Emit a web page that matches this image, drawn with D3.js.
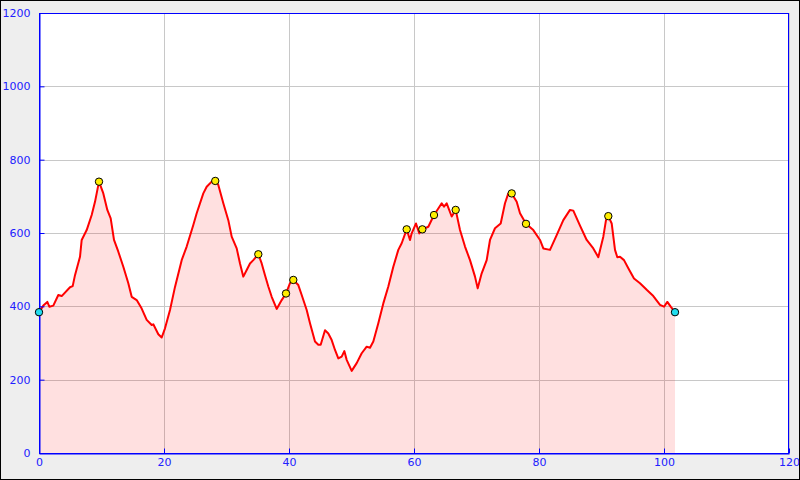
<!DOCTYPE html>
<html><head><meta charset="utf-8">
<script src="https://cdn.jsdelivr.net/npm/d3@7"></script>
<style>body{margin:0;padding:0;}svg{display:block;}</style>
</head><body>
<svg id="c" width="800" height="480"></svg>
<script>
const distKm = [0,0.69,1.33,1.65,2.29,3.09,3.63,4.96,5.39,5.76,6.56,6.83,7.63,8.43,8.96,9.6,10.29,10.93,11.47,12.0,12.69,13.49,14.29,14.83,15.63,16.43,17.23,18.03,18.29,19.09,19.63,20.16,20.96,21.76,22.83,23.63,24.69,25.23,26.29,26.83,27.63,28.2,28.69,29.49,30.29,30.83,31.63,32.16,32.69,33.23,33.76,34.29,35.09,35.63,36.16,36.69,37.23,38.03,38.83,39.52,40.16,40.69,41.49,42.03,42.83,43.36,44.16,44.69,45.07,45.76,46.29,46.83,47.36,47.89,48.43,48.85,49.23,50.03,50.83,51.63,52.43,52.96,53.49,54.29,55.09,55.89,56.69,57.49,58.03,58.83,59.36,59.63,60.32,60.85,61.33,62.29,63.2,63.89,64.43,64.8,65.23,66.03,66.67,67.36,68.16,68.96,69.76,70.19,70.83,71.63,72.16,72.96,73.87,74.56,75.09,75.63,76.43,76.96,77.92,79.09,80.16,80.69,81.76,82.83,83.89,84.96,85.49,86.56,87.63,88.69,89.49,90.29,90.72,91.09,91.63,92.16,92.53,92.96,93.6,94.29,95.2,96.16,97.23,98.29,99.36,100.0,100.53,101.07,101.76];
const elevation = [384,402,412,399,402,431,428,452,455,485,535,581,608,649,685,740,708,663,640,581,549,508,463,426,417,394,363,349,351,324,315,340,390,453,526,563,622,654,708,726,740,742,731,681,635,590,558,517,481,499,517,526,542,517,485,454,426,393,417,435,463,472,458,431,390,354,304,295,295,335,326,308,281,258,263,278,254,224,245,272,290,287,304,354,408,454,508,554,572,610,581,599,626,599,610,617,649,667,681,672,681,645,663,608,563,526,481,449,490,526,581,613,626,681,708,708,685,654,625,608,581,558,554,594,635,663,661,620,581,558,534,590,635,646,626,554,534,535,526,504,476,463,445,428,404,399,412,399,384];
const markerKm = [9.6,28.2,35.09,39.52,40.69,58.83,61.33,63.2,66.67,75.63,77.92,91.09];
const markerElev = [740,742,542,435,472,610,610,649,663,708,625,646];
const endKm = [0,101.76];
const endElev = [384,384];
const xTicks = [0,20,40,60,80,100,120];
const yTicks = [0,200,400,600,800,1000,1200];

const svg = d3.select("#c");
const L=39,T=13,R=789,B=453;
svg.append("rect").attr("x",0.5).attr("y",0.5).attr("width",799).attr("height",479)
  .attr("fill","#eeeeee").attr("stroke","#000").attr("stroke-width",1);
svg.append("rect").attr("x",L).attr("y",T).attr("width",R-L).attr("height",B-T).attr("fill","#fff");

const x = d3.scaleLinear().domain([0,120]).range([L,R]);
const y = d3.scaleLinear().domain([0,1200]).range([B,T]);

const g = svg.append("g");
g.selectAll(".vg").data(xTicks).enter().append("line")
  .attr("x1",d=>Math.round(x(d))+0.5).attr("x2",d=>Math.round(x(d))+0.5)
  .attr("y1",T).attr("y2",B).attr("stroke","#c8c8c8").attr("stroke-width",1);
g.selectAll(".hg").data(yTicks).enter().append("line")
  .attr("y1",d=>Math.round(y(d))+0.5).attr("y2",d=>Math.round(y(d))+0.5)
  .attr("x1",L).attr("x2",R).attr("stroke","#c8c8c8").attr("stroke-width",1);

const pts = distKm.map((d,i)=>[d,elevation[i]]);
const area = d3.area().x(d=>x(d[0])).y0(y(0)).y1(d=>y(d[1]));
const line = d3.line().x(d=>x(d[0])).y(d=>y(d[1]));
g.append("path").attr("d",area(pts)).attr("fill","rgba(255,0,0,0.12)");
g.append("path").attr("d",line(pts)).attr("fill","none").attr("stroke","#ff0000").attr("stroke-width",2).attr("stroke-linejoin","round");

svg.append("rect").attr("x",L+0.5).attr("y",T+0.5).attr("width",R-L-1).attr("height",B-T)
  .attr("fill","none").attr("stroke","#0000ff").attr("stroke-width",1);

const fmt = d3.format("d");
const yAxis = d3.axisLeft(y).tickValues(yTicks).tickFormat(fmt).tickSizeInner(-5).tickSizeOuter(0).tickPadding(9);
const xAxis = d3.axisBottom(x).tickValues(xTicks).tickFormat(fmt).tickSizeInner(-5).tickSizeOuter(0).tickPadding(5);
const ya = svg.append("g").attr("transform",`translate(${L+0.5},0)`).call(yAxis);
const xa = svg.append("g").attr("transform",`translate(0,${B+0.5})`).call(xAxis);
[ya,xa].forEach(a=>{
  a.select(".domain").attr("stroke","#0000ff");
  a.selectAll(".tick line").attr("stroke","#0000ff");
  a.selectAll("text").attr("fill","#2020ff").style("font-family","DejaVu Sans").style("font-size","11px");
});

svg.selectAll(".mk").data(markerKm).enter().append("circle")
  .attr("cx",d=>x(d)).attr("cy",(d,i)=>y(markerElev[i])).attr("r",3.7)
  .attr("fill","#ffee00").attr("stroke","#000").attr("stroke-width",1);
svg.selectAll(".ek").data(endKm).enter().append("circle")
  .attr("cx",d=>x(d)).attr("cy",(d,i)=>y(endElev[i])).attr("r",3.7)
  .attr("fill","#22ddee").attr("stroke","#000").attr("stroke-width",1);
</script>
</body></html>
